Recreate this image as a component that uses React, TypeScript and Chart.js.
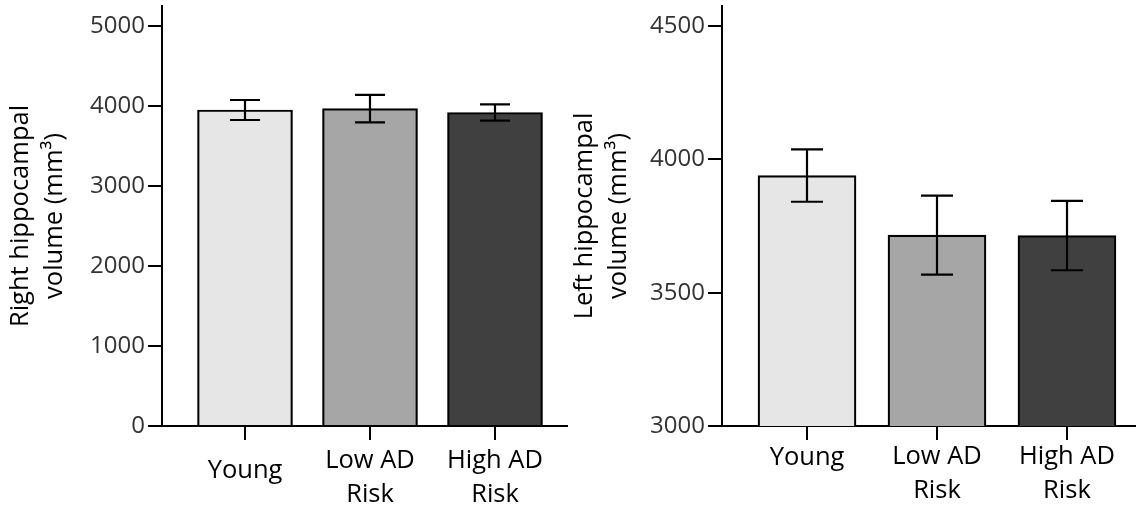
import React, { useEffect, useRef } from 'react';
import { Chart, registerables } from 'chart.js';

Chart.register(...registerables);

const CATEGORIES: string[][] = [['Young'], ['Low AD', 'Risk'], ['High AD', 'Risk']];
const BAR_COLORS = ['#e6e6e6', '#a6a6a6', '#404040'];

const RIGHT_MEANS = [3950, 3967, 3919];
const RIGHT_ERRORS = [125, 171, 102];
const RIGHT_TICKS = [0, 1000, 2000, 3000, 4000, 5000];
const RIGHT_TITLE = ['Right hippocampal', 'volume (mm³)'];

const LEFT_MEANS = [3939, 3716, 3714];
const LEFT_ERRORS = [98, 148, 130];
const LEFT_TICKS = [3000, 3500, 4000, 4500];
const LEFT_TITLE = ['Left hippocampal', 'volume (mm³)'];

const FONT = 'Open Sans';
const LABEL_SIZE = 25.5;

type Panel = {
  means: number[];
  errors: number[];
  ticks: number[];
  title: string[];
  yMin: number;
  yMax: number;
  xMin: number;
  xMax: number;
  barThickness: number;
  capHalf: number;
  yAxisWidth: number;
  titlePad: number;
  labelPad: number;
  youngLH: number;
};

const PANELS: Panel[] = [
  {
    means: RIGHT_MEANS, errors: RIGHT_ERRORS, ticks: RIGHT_TICKS, title: RIGHT_TITLE,
    yMin: 0, yMax: 5250, xMin: -0.664, xMax: 2.584, barThickness: 95, capHalf: 15,
    yAxisWidth: 162, titlePad: 4, labelPad: 4, youngLH: 2.12,
  },
  {
    means: LEFT_MEANS, errors: LEFT_ERRORS, ticks: LEFT_TICKS, title: LEFT_TITLE,
    yMin: 3000, yMax: 4575, xMin: -0.654, xMax: 2.531, barThickness: 98, capHalf: 16,
    yAxisWidth: 154, titlePad: 0, labelPad: 0, youngLH: 1.41,
  },
];

function ChartPanel({ p }: { p: Panel }) {
  const ref = useRef<HTMLCanvasElement | null>(null);
  useEffect(() => {
    if (!ref.current) return;
    const errorBars = {
      id: 'errorBars',
      afterDatasetsDraw(chart: any) {
        const meta = chart.getDatasetMeta(0);
        const ys = chart.scales.y;
        const ctx = chart.ctx;
        ctx.save();
        ctx.strokeStyle = '#000';
        ctx.lineWidth = 2.2;
        meta.data.forEach((el: any, i: number) => {
          const x = Math.round(el.x);
          const hi = ys.getPixelForValue(p.means[i] + p.errors[i]);
          const lo = ys.getPixelForValue(p.means[i] - p.errors[i]);
          ctx.beginPath();
          ctx.moveTo(x, hi);
          ctx.lineTo(x, lo);
          ctx.moveTo(x - p.capHalf, hi);
          ctx.lineTo(x + p.capHalf, hi);
          ctx.moveTo(x - p.capHalf, lo);
          ctx.lineTo(x + p.capHalf, lo);
          ctx.stroke();
        });
        ctx.restore();
      },
    };
    const chart = new Chart(ref.current, {
      type: 'bar',
      data: {
        datasets: [
          {
            data: p.means.map((v, i) => ({ x: i, y: v })),
            backgroundColor: BAR_COLORS,
            borderColor: '#000',
            borderWidth: 2.2,
            barThickness: p.barThickness,
          } as any,
        ],
      },
      options: {
        animation: false,
        responsive: false,
        devicePixelRatio: 1,
        layout: { padding: { top: 6, left: 0, right: 0, bottom: 0 } },
        plugins: { legend: { display: false }, tooltip: { enabled: false } },
        scales: {
          x: {
            type: 'linear',
            min: p.xMin,
            max: p.xMax,
            offset: false,
            afterBuildTicks: (s: any) => {
              s.ticks = CATEGORIES.map((_, i) => ({ value: i }));
            },
            afterFit: (s: any) => {
              s.height = 86;
              s.paddingLeft = 0;
              s.paddingRight = 0;
              s.paddingTop = 0;
              s.paddingBottom = 0;
            },
            grid: { offset: false, drawOnChartArea: false, drawTicks: true, tickLength: 14, lineWidth: 2, color: '#000' },
            border: { display: true, color: '#000', width: 2 },
            ticks: {
              autoSkip: false,
              maxRotation: 0,
              minRotation: 0,
              color: '#000',
              padding: p.labelPad,
              font: (c: any) => ({ family: FONT, size: LABEL_SIZE, lineHeight: c.index === 0 ? p.youngLH : 1.33 }),
              callback: (v: any) => CATEGORIES[Math.round(Number(v))],
            },
          } as any,
          y: {
            type: 'linear',
            min: p.yMin,
            max: p.yMax,
            afterBuildTicks: (s: any) => {
              s.ticks = p.ticks.map((v) => ({ value: v }));
            },
            afterFit: (s: any) => {
              s.width = p.yAxisWidth;
              s.paddingTop = 0;
              s.paddingBottom = 0;
              s.paddingLeft = 0;
              s.paddingRight = 0;
            },
            grid: { drawOnChartArea: false, drawTicks: true, tickLength: 14, lineWidth: 2, color: '#000' },
            border: { display: true, color: '#000', width: 2 },
            ticks: {
              color: '#333',
              padding: 3,
              font: { family: FONT, size: 24 },
              callback: (v: any) => String(v),
            },
            title: {
              display: true,
              text: p.title,
              color: '#000',
              font: { family: FONT, size: LABEL_SIZE, lineHeight: 1.33 },
              padding: { top: p.titlePad, bottom: 0 },
            },
          } as any,
        },
      },
      plugins: [errorBars],
    } as any);
    return () => chart.destroy();
  }, [p]);
  return <canvas ref={ref} width={568} height={512} style={{ display: 'block', width: 568, height: 512 }} />;
}

export default function App() {
  return (
    <div style={{ position: 'absolute', left: 0, top: 0, width: 1136, height: 512, display: 'flex', background: '#fff' }}>
      {PANELS.map((p, i) => (
        <ChartPanel key={i} p={p} />
      ))}
    </div>
  );
}
